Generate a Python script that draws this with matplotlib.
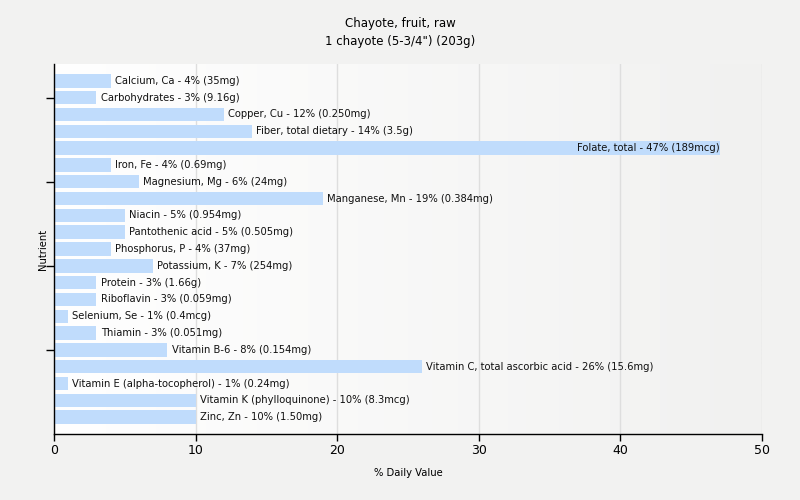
# -*- coding: utf-8 -*-
"""Horizontal bar chart of % daily value per nutrient for raw chayote."""
import numpy as np
import matplotlib
matplotlib.use("Agg")
import matplotlib.pyplot as plt

title = "Chayote, fruit, raw\n1 chayote (5-3/4\") (203g)"

nutrients = [
    "Calcium, Ca", "Carbohydrates", "Copper, Cu", "Fiber, total dietary",
    "Folate, total", "Iron, Fe", "Magnesium, Mg", "Manganese, Mn", "Niacin",
    "Pantothenic acid", "Phosphorus, P", "Potassium, K", "Protein",
    "Riboflavin", "Selenium, Se", "Thiamin", "Vitamin B-6",
    "Vitamin C, total ascorbic acid", "Vitamin E (alpha-tocopherol)",
    "Vitamin K (phylloquinone)", "Zinc, Zn",
]
percent_dv = [4, 3, 12, 14, 47, 4, 6, 19, 5, 5, 4, 7, 3, 3, 1, 3, 8, 26, 1, 10, 10]
amounts = [
    "35mg", "9.16g", "0.250mg", "3.5g", "189mcg", "0.69mg", "24mg",
    "0.384mg", "0.954mg", "0.505mg", "37mg", "254mg", "1.66g", "0.059mg",
    "0.4mcg", "0.051mg", "0.154mg", "15.6mg", "0.24mg", "8.3mcg", "1.50mg",
]
x_ticks = [0, 10, 20, 30, 40, 50]
y_tick_rows = [1, 6, 11, 16]

bg = "#f2f2f1"
bar_color = "#c0dcfc"

fig = plt.figure(figsize=(8, 5), dpi=100, facecolor=bg)
ax = fig.add_axes([0.0675, 0.132, 0.885, 0.74])

# gradient plot background, white on the left fading to light gray
grad = np.linspace(0, 1, 256).reshape(1, -1)
cmap = matplotlib.colors.LinearSegmentedColormap.from_list(
    "bg", ["#ffffff", "#f1f1f0"])
ax.imshow(grad, extent=[0, 1, 0, 1], transform=ax.transAxes, cmap=cmap,
          aspect="auto", zorder=0)

y = np.arange(len(nutrients))
ax.barh(y, percent_dv, height=0.8, color=bar_color, zorder=2)

for yi, name, val, amt in zip(y, nutrients, percent_dv, amounts):
    label = f"{name} - {val}% ({amt})"
    if val > 40:
        ax.text(val, yi, label, ha="right", va="center", fontsize=7.2,
                color="#111111", zorder=3)
    else:
        ax.text(val + 0.3, yi, label, ha="left", va="center", fontsize=7.2,
                color="#111111", zorder=3)

ax.set_xlim(0, 50)
ax.set_ylim(21, -1)
ax.set_xticks(x_ticks)
ax.set_yticks(y_tick_rows)
ax.set_yticklabels([])
ax.tick_params(axis="x", labelsize=9, length=5, width=1, color="black", pad=2)
ax.tick_params(axis="y", length=6, width=1, color="black")

ax.grid(axis="x", color="#dedede", linewidth=1, zorder=1)
ax.set_axisbelow(True)
for side in ("top", "right"):
    ax.spines[side].set_visible(False)
for side in ("left", "bottom"):
    ax.spines[side].set_color("black")
    ax.spines[side].set_linewidth(1)

ax.set_xlabel("% Daily Value", fontsize=7.2, labelpad=8)
ax.set_ylabel("Nutrient", fontsize=7.2, labelpad=-5)
fig.text(0.5, 0.935, title, ha="center", va="center", fontsize=8.5,
         linespacing=1.5)

fig.savefig("out.png", dpi=100, facecolor=bg)
